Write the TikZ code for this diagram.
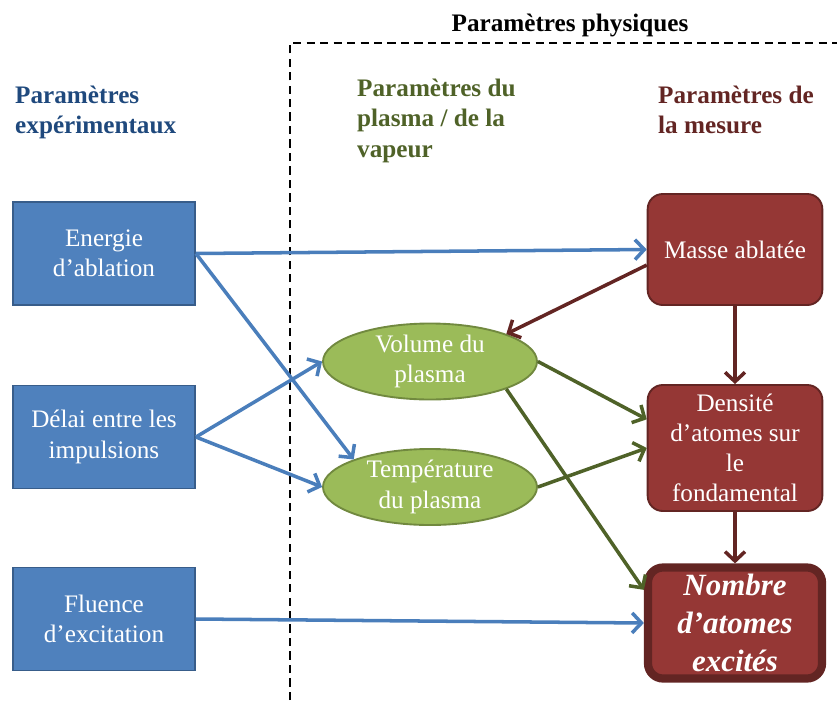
\documentclass[tikz,border=0pt]{standalone}
\usepackage{fontspec}
\setmainfont{Liberation Serif}
\usepackage{xcolor}
\usepackage{tikz}
\usetikzlibrary{shapes.geometric, arrows.meta, positioning}
\definecolor{myblue}{RGB}{79,129,189}
\definecolor{blueline}{RGB}{56,93,138}
\definecolor{bluearrow}{RGB}{74,126,187}
\definecolor{mygreen}{RGB}{155,187,89}
\definecolor{greenline}{RGB}{113,137,63}
\definecolor{greendark}{RGB}{79,98,40}
\definecolor{myred}{RGB}{149,55,53}
\definecolor{reddark}{RGB}{99,37,35}
\definecolor{hdrblue}{RGB}{31,73,125}
\newcommand{\nodefont}{\fontsize{21.5}{25.8}\selectfont}
\tikzset{
  expbox/.style={rectangle, draw=blueline, fill=myblue, text=white,
    minimum width=54.6mm, minimum height=30.9mm, align=center,
    font=\nodefont, line width=1.6pt},
  plasma/.style={ellipse, draw=greenline, fill=mygreen, text=white,
    minimum width=64.2mm, minimum height=22.8mm, inner sep=0pt,
    align=center, font=\nodefont, line width=1.6pt},
  mesure/.style={rectangle, draw=reddark, fill=myred, text=white,
    minimum width=52.4mm, align=center, font=\nodefont,
    rounded corners=4.5mm, line width=1.6pt},
  hdr/.style={anchor=north west, align=left, inner sep=0pt,
    font=\bfseries\nodefont},
  bluearr/.style={-{Straight Barb[length=8pt,width=17pt]}, line width=3pt, color=bluearrow},
  greenarr/.style={-{Straight Barb[length=8pt,width=17pt]}, line width=3pt, color=greendark},
  redarr/.style={-{Straight Barb[length=8pt,width=17pt]}, line width=3pt, color=reddark},
  dashline/.style={dash pattern=on 7pt off 4.5pt, line width=1.6pt}
}

\begin{document}
\begin{tikzpicture}[x=0.3mm, y=-0.3mm]
  \useasboundingbox (0,0) rectangle (837,700);

  % Headers
  \node[anchor=north, inner sep=0pt, font=\bfseries\nodefont] (physique) at (570,14) {Paramètres physiques};
  \node[hdr, text=hdrblue] (hexp) at (15,86) {Paramètres\\expérimentaux};
  \node[hdr, text=greendark] (hplasma) at (357,79) {Paramètres du\\plasma / de la\\vapeur};
  \node[hdr, text=reddark] (hmesure) at (658,86) {Paramètres de\\la mesure};

  % Frame
  \draw[dashline] (290,700) -- (290,43) -- (837,43);

  % Nodes
  \node[expbox] (energie) at (104,253.5) {Energie\\d’ablation};
  \node[expbox] (delai) at (104,437) {Délai entre les\\impulsions};
  \node[expbox] (fluence) at (104,619) {Fluence\\d’excitation};

  \node[plasma] (volume) at (430,361.5) {Volume du\\plasma};
  \node[plasma] (temperature) at (430,487) {Température\\du plasma};

  \node[mesure, minimum height=33.3mm] (masse) at (735,249.5) {Masse ablatée};
  \node[mesure, minimum height=37.8mm] (densite) at (735,448) {Densité\\d’atomes sur\\le\\fondamental};
  \node[mesure, minimum width=52.2mm, minimum height=33.3mm, inner sep=1pt, line width=7pt,
    font=\bfseries\itshape\fontsize{26.4}{32.5}\selectfont] (nombre) at (735,623) {Nombre\\d’atomes\\excités};

  % Connections
  \draw[bluearr] (energie.east) -- (masse.west);
  \draw[bluearr] (energie.east) -- (temperature.north west);
  \draw[bluearr] (delai.east) -- (volume.west);
  \draw[bluearr] (delai.east) -- (temperature.west);
  \draw[bluearr] (fluence.east) -- (nombre.west);
  \draw[redarr] (masse.190) -- (volume.north east);
  \draw[redarr] (masse.south) -- (densite.north);
  \draw[greenarr] (volume.east) -- (densite.162);
  \draw[greenarr] (volume.south east) -- (nombre.160);
  \draw[greenarr] (temperature.east) -- (densite.west);
  \draw[redarr] (densite.south) -- (nombre.north);
\end{tikzpicture}
\end{document}
